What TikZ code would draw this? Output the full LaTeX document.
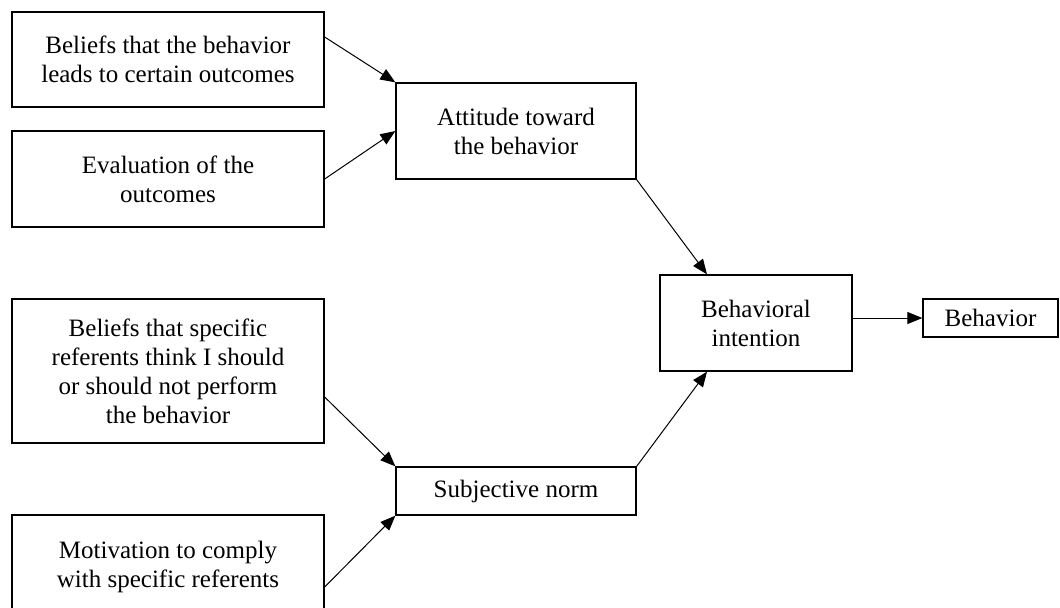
\documentclass[tikz,border=0pt]{standalone}
\usepackage{fontspec}
\setmainfont{Liberation Serif}
\usetikzlibrary{arrows, positioning, arrows.meta}

\begin{document}
\begin{tikzpicture}[x=0.5pt, y=-0.5pt, ->, >={Triangle[length=7.5pt, width=6pt]},
	line width=0.5pt]
	\tikzstyle{factor}=[draw=black, rectangle, line width=0.65pt, align=center,
		inner sep=0pt, font=\fontsize{12.5}{14.5}\selectfont]
	\useasboundingbox (0,0) rectangle (1060,607);

		\node[factor, minimum width=156pt, minimum height=47.5pt] (outcomes) at (168,59.5)
			{Beliefs that the behavior\\leads to certain outcomes};
		\node[factor, minimum width=156pt, minimum height=48pt] (evaluation) at (168,179)
			{Evaluation of the\\outcomes};
		\node[factor, minimum width=156pt, minimum height=72pt] (referents) at (168,371)
			{Beliefs that specific\\referents think I should\\or should not perform\\the behavior};
		\node[factor, minimum width=156pt, minimum height=52pt] (motivation) at (168,567)
			{Motivation to comply\\with specific referents};
		\node[factor, minimum width=120pt, minimum height=48pt] (attitude) at (516,131)
			{Attitude toward\\the behavior};
		\node[factor, minimum width=120pt, minimum height=24pt] (norm) at (516,491)
			{Subjective norm};
		\node[factor, minimum width=96pt, minimum height=48pt] (intention) at (756,323)
			{Behavioral\\intention};
		\node[factor, minimum width=67.5pt, minimum height=19pt] (behavior) at (990.5,318)
			{Behavior};

		\path 	([yshift=11.25pt]outcomes.east) edge (attitude.north west)
				(evaluation.east) edge (attitude.west)
				([yshift=-13pt]referents.east) edge (norm.north west)
				([yshift=-10pt]motivation.east) edge (norm.south west)
				(attitude.south east) edge ([xshift=-24.5pt]intention.north)
				(norm.north east) edge ([xshift=-24.5pt]intention.south)
				(intention.east |- behavior.west) edge (behavior.west);
\end{tikzpicture}
\end{document}
